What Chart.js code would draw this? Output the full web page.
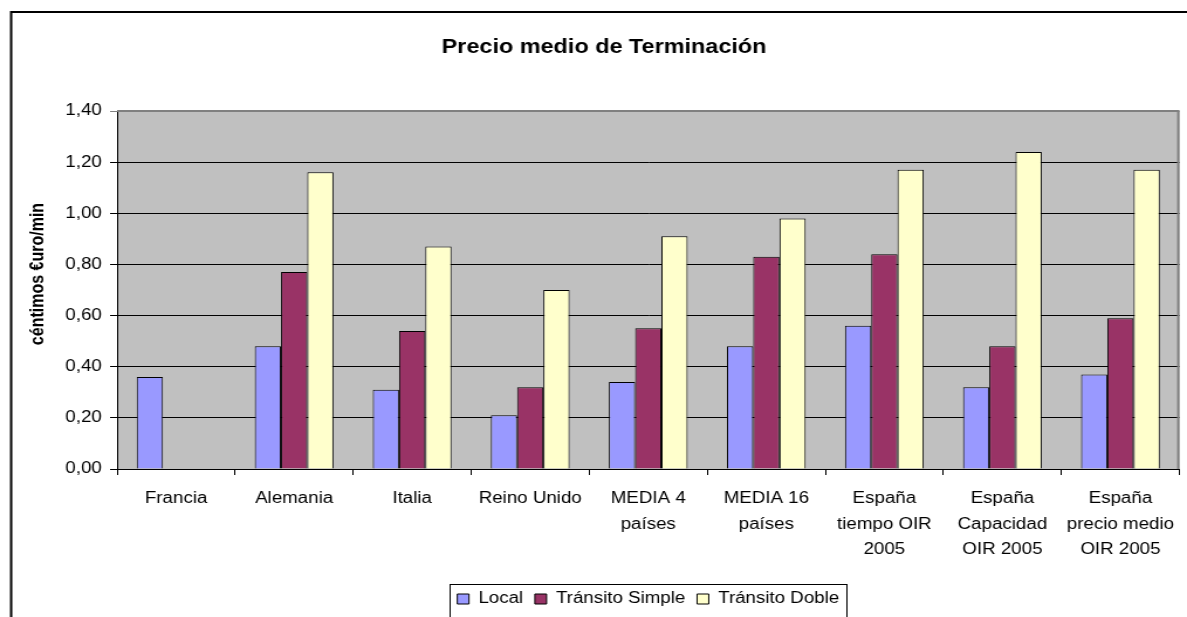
<!DOCTYPE html>
<html>
<head>
<meta charset="utf-8">
<script src="https://cdn.jsdelivr.net/npm/chart.js@4/dist/chart.umd.min.js"></script>
<style>
  html, body { margin: 0; padding: 0; background: #ffffff; overflow: hidden; }
  #outer { width: 1187px; height: 617px; overflow: hidden; position: relative; }
  #wrap { width: 1014px; height: 617px; transform: scaleX(1.17061); transform-origin: 0 0; }
  canvas { display: block; }
</style>
</head>
<body>
<div id="outer"><div id="wrap"><canvas id="c" width="1014" height="617"></canvas></div></div>
<script>
const categories = [
  "Francia",
  "Alemania",
  "Italia",
  "Reino Unido",
  ["MEDIA 4", "países"],
  ["MEDIA 16", "países"],
  ["España", "tiempo OIR", "2005"],
  ["España", "Capacidad", "OIR 2005"],
  ["España", "precio medio", "OIR 2005"]
];
const seriesNames = ["Local", "Tránsito Simple", "Tránsito Doble"];
const local  = [0.36, 0.48, 0.31, 0.21, 0.34, 0.48, 0.56, 0.32, 0.37];
const simple = [null, 0.77, 0.54, 0.32, 0.55, 0.83, 0.84, 0.48, 0.59];
const doble  = [null, 1.16, 0.87, 0.70, 0.91, 0.98, 1.17, 1.24, 1.17];
const yTicks = { min: 0, max: 1.4, step: 0.2 };
const titleText = "Precio medio de Terminación";
const yTitleText = "céntimos €uro/min";

const FONT = "'Liberation Sans', Arial, sans-serif";

const decorPlugin = {
  id: 'decor',
  beforeDraw(chart) {
    const { ctx, chartArea: a } = chart;
    ctx.save();
    ctx.fillStyle = '#ffffff';
    ctx.fillRect(0, 0, chart.width, chart.height);
    ctx.fillStyle = '#C0C0C0';
    ctx.fillRect(a.left, a.top, a.right - a.left, a.bottom - a.top);
    ctx.restore();
  },
  beforeDatasetsDraw(chart) {
    const { ctx, chartArea: a } = chart;
    ctx.save();
    ctx.strokeStyle = '#808080';
    ctx.lineWidth = 2;
    ctx.beginPath();
    ctx.moveTo(a.left, a.top);
    ctx.lineTo(a.right - 1, a.top);
    ctx.lineTo(a.right - 1, a.bottom);
    ctx.stroke();
    ctx.restore();
  },
  afterDraw(chart) {
    const { ctx } = chart;
    ctx.save();
    // outer chart frame (runs off the right and bottom edges)
    ctx.strokeStyle = '#000000';
    ctx.lineWidth = 2;
    ctx.strokeRect(9.5, 12, 1400, 900);
    // chart title, centred on the whole chart frame (which extends past the right edge)
    ctx.fillStyle = '#000000';
    ctx.font = "bold 20px " + FONT;
    ctx.textAlign = 'center';
    ctx.textBaseline = 'middle';
    ctx.fillText(titleText, 516, 47);
    // y axis title
    ctx.translate(32.5, 274);
    ctx.rotate(-Math.PI / 2);
    ctx.font = "bold 16px " + FONT;
    ctx.fillText(yTitleText, 0, 0);
    ctx.restore();
    // legend frame
    const lg = chart.legend;
    if (lg && lg.legendHitBoxes && lg.legendHitBoxes.length) {
      const hb = lg.legendHitBoxes;
      const l = hb[0].left - 7;
      const last = hb[hb.length - 1];
      const r = last.left + last.width + 6;
      const cy = hb[0].top + hb[0].height / 2;
      ctx.save();
      ctx.strokeStyle = '#000000';
      ctx.lineWidth = 1;
      ctx.strokeRect(Math.round(l) + 0.5, Math.round(cy - 15.5) + 0.5, Math.round(r - l), 60);
      ctx.restore();
    }
  }
};

new Chart(document.getElementById('c'), {
  type: 'bar',
  data: {
    labels: categories,
    datasets: [
      { label: seriesNames[0], data: local,  backgroundColor: '#9999FF', borderColor: '#000000', borderWidth: 1 },
      { label: seriesNames[1], data: simple, backgroundColor: '#993366', borderColor: '#000000', borderWidth: 1 },
      { label: seriesNames[2], data: doble,  backgroundColor: '#FFFFCC', borderColor: '#000000', borderWidth: 1 }
    ]
  },
  options: {
    responsive: false,
    animation: false,
    devicePixelRatio: 1,
    layout: { padding: { left: 0, right: 1, top: 111, bottom: 0 } },
    datasets: { bar: { categoryPercentage: 0.667, barPercentage: 1.0, borderSkipped: 'start' } },
    plugins: {
      title: { display: false },
      legend: {
        display: true,
        position: 'bottom',
        fullSize: false,
        labels: {
          color: '#000000',
          font: { family: FONT, size: 16 },
          boxWidth: 10,
          boxHeight: 10,
          padding: 10
        }
      },
      tooltip: { enabled: false }
    },
    scales: {
      x: {
        grid: { display: true, drawOnChartArea: false, drawTicks: true, tickLength: 6, color: '#000000', offset: true },
        border: { display: true, color: '#000000', width: 1 },
        ticks: {
          color: '#000000',
          font: { family: FONT, size: 16, lineHeight: 1.6 },
          padding: 11,
          maxRotation: 0,
          autoSkip: false
        },
        afterFit(scale) { scale.height = 112; }
      },
      y: {
        min: yTicks.min,
        max: yTicks.max,
        grid: {
          color: (c) => (c.tick && Math.abs(c.tick.value - yTicks.max) < 1e-9) ? '#808080' : '#000000',
          lineWidth: 1,
          drawTicks: true,
          tickLength: 6
        },
        border: { display: true, color: '#000000', width: 1 },
        ticks: {
          stepSize: yTicks.step,
          color: '#000000',
          font: { family: FONT, size: 16 },
          padding: 7,
          callback: (v) => Number(v).toFixed(2).replace('.', ',')
        },
        afterFit(scale) { scale.width = 100; }
      }
    }
  },
  plugins: [decorPlugin]
});
</script>
</body>
</html>
